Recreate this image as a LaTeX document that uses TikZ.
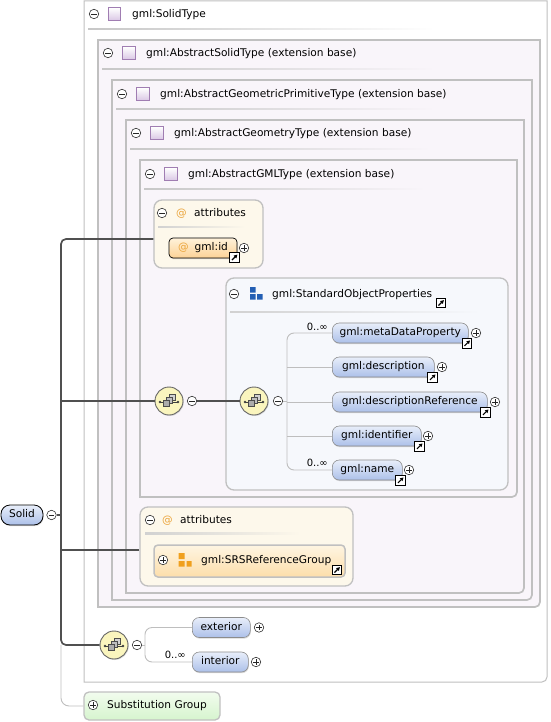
\documentclass[tikz,border=0pt]{standalone}
\usepackage{fontspec}
\setmainfont{DejaVu Sans}
\usetikzlibrary{shadows,arrows.meta}
\definecolor{boxgray}{RGB}{192,192,192}
\definecolor{lav}{RGB}{249,245,250}
\definecolor{attrfill}{RGB}{253,248,235}
\definecolor{sopfill}{RGB}{246,248,252}
\definecolor{elemtop}{RGB}{232,238,250}
\definecolor{elembot}{RGB}{172,192,233}
\definecolor{idtop}{RGB}{255,242,218}
\definecolor{idbot}{RGB}{252,210,150}
\definecolor{srstop}{RGB}{254,245,226}
\definecolor{srsbot}{RGB}{253,222,170}
\definecolor{seqfill}{RGB}{250,245,190}
\definecolor{subtop}{RGB}{242,252,238}
\definecolor{subbot}{RGB}{214,244,206}
\definecolor{trunkc}{RGB}{80,80,80}
\definecolor{branchc}{RGB}{190,190,190}
\definecolor{atcol}{RGB}{235,165,60}
\definecolor{purp}{RGB}{160,125,178}
\definecolor{purpfill}{RGB}{218,200,230}
\definecolor{iconblue}{RGB}{35,95,180}
\definecolor{iconorange}{RGB}{240,160,30}
\tikzset{
 outerbox/.style={draw=boxgray, line width=1pt, fill=white},
 nestbox/.style={draw=boxgray, line width=1.7pt, fill=lav},
 lbl/.style={anchor=base west, inner sep=0pt},
 minusc/.style={circle, draw=black!80, fill=white, line width=0.6pt, minimum size=9.5pt, inner sep=0pt,
   path picture={\draw[black!85, line width=0.8pt] ([xshift=-2.6pt]path picture bounding box.center) -- ([xshift=2.6pt]path picture bounding box.center);}},
 plusc/.style={circle, draw=black!80, fill=white, line width=0.6pt, minimum size=9.5pt, inner sep=0pt,
   path picture={\draw[black!85, line width=0.8pt] ([xshift=-2.6pt]path picture bounding box.center) -- ([xshift=2.6pt]path picture bounding box.center);
   \draw[black!85, line width=0.8pt] ([yshift=-2.6pt]path picture bounding box.center) -- ([yshift=2.6pt]path picture bounding box.center);}},
 purpsq/.style={draw=purp, line width=0.7pt, top color=white, bottom color=purpfill, minimum size=12.5pt, inner sep=0pt},
 elem/.style={draw=black!45, line width=0.6pt, top color=elemtop, bottom color=elembot, rounded corners=7pt,
   minimum height=20pt, inner sep=0pt, anchor=west, text height=7.6pt, text depth=2.3pt,
   drop shadow={shadow xshift=0.6pt, shadow yshift=-1.2pt, opacity=0.3}},
 idbox/.style={draw=black, line width=0.7pt, top color=idtop, bottom color=idbot, rounded corners=4pt,
   minimum width=68pt, minimum height=20pt, inner sep=0pt, text height=7.6pt, text depth=2.3pt,
   drop shadow={shadow xshift=0.6pt, shadow yshift=-1.2pt, opacity=0.3}},
 linkic/.style={draw=black, line width=1pt, fill=white, minimum size=9.5pt, inner sep=0pt,
   path picture={\draw[black, line width=1.1pt, -{Triangle[length=3.4pt,width=3.6pt]}] ([shift={(-2.6pt,-2.6pt)}]path picture bounding box.center) -- ([shift={(2.9pt,2.9pt)}]path picture bounding box.center);}},
 seqic/.style={circle, draw=black!60, line width=0.9pt, fill=seqfill, minimum size=28pt, inner sep=0pt,
   drop shadow={shadow xshift=0.8pt, shadow yshift=-1pt, opacity=0.25},
   path picture={\begin{scope}[shift={(path picture bounding box.center)}]
     \draw[black!75, line width=0.7pt] (-9,1) -- (9,1);
     \fill[black!75] (-9,1) circle (1.3pt) (9,1) circle (1.3pt);
     \draw[black!70, fill=gray!35, line width=0.5pt] (0,-7) rectangle (6,-1);
     \draw[black!70, fill=gray!50, line width=0.5pt] (-3,-4) rectangle (3,2);
     \draw[black!70, fill=gray!65, line width=0.5pt] (-6,-1) rectangle (0,5);
   \end{scope}}},
 attrbox/.style={draw=boxgray, line width=1.3pt, fill=attrfill, rounded corners=8pt, inner sep=0pt},
 trunkline/.style={draw=trunkc, line width=1.7pt},
 lightline/.style={draw=branchc, line width=0.9pt},
 zinf/.style={font=\fontsize{10}{11}\selectfont, anchor=base east, inner sep=0pt},
}
\begin{document}
\begin{tikzpicture}[x=1pt,y=-1pt,font=\fontsize{10.6}{12.5}\selectfont]
\useasboundingbox (0,0) rectangle (550,722);
% nested type boxes
\draw[outerbox] (84,1) -- (547,1) -- (547,677) arc[start angle=0,end angle=-90,radius=5pt] -- (84,682) -- cycle;
\draw[nestbox] (98,40) -- (540,40) -- (540,602) arc[start angle=0,end angle=-90,radius=5pt] -- (98,607) -- cycle;
\draw[nestbox] (112,80) -- (532,80) -- (532,595) arc[start angle=0,end angle=-90,radius=5pt] -- (112,600) -- cycle;
\draw[nestbox] (126,120) -- (524,120) -- (524,588) arc[start angle=0,end angle=-90,radius=5pt] -- (126,593) -- cycle;
\draw[nestbox] (140,160) -- (517,160) -- (517,492) arc[start angle=0,end angle=-90,radius=5pt] -- (140,497) -- cycle;
% headers
\shade[left color=black!22, right color=white] (88,28.3) rectangle (435,29.8);
\node[minusc] (hAm) at (94,14) {};
\node[purpsq] (hAs) at (114.5,14) {};
\node[lbl] (hAt) at (132,17.8) {gml:SolidType};
\shade[left color=black!22, right color=lav] (102,68.3) rectangle (435,69.8);
\node[minusc] (hBm) at (108,53) {};
\node[purpsq] (hBs) at (129,53) {};
\node[lbl] (hBt) at (146,56.8) {gml:AbstractSolidType (extension base)};
\shade[left color=black!22, right color=lav] (116,108.3) rectangle (435,109.8);
\node[minusc] (hCm) at (122,94) {};
\node[purpsq] (hCs) at (143,94) {};
\node[lbl] (hCt) at (160,97.8) {gml:AbstractGeometricPrimitiveType (extension base)};
\shade[left color=black!22, right color=lav] (130,148.3) rectangle (430,149.8);
\node[minusc] (hDm) at (136,133) {};
\node[purpsq] (hDs) at (157,133) {};
\node[lbl] (hDt) at (174,136.8) {gml:AbstractGeometryType (extension base)};
\shade[left color=black!22, right color=lav] (144,188.3) rectangle (425,189.8);
\node[minusc] (hEm) at (150,174) {};
\node[purpsq] (hEs) at (171,174) {};
\node[lbl] (hEt) at (188,177.8) {gml:AbstractGMLType (extension base)};
% attributes (gml:id)
\node[attrbox, minimum width=109pt, minimum height=68pt] (attrs1) at (208.5,234) {};
\shade[left color=black!18, right color=attrfill] (158,226) rectangle (245,227.5);
\node[minusc] (a1m) at (162,213) {};
\node[lbl, text=atcol] (a1at) at (176,216.8) {@};
\node[lbl] (a1t) at (194,216.8) {attributes};
\node[idbox] (gid) at (203,248) {\textcolor{atcol}{@}\hspace{6pt}gml:id};
\node[plusc] (gidp) at (244,248) {};
\node[linkic] (gidl) at (234.5,257.5) {};
% StandardObjectProperties group
\draw[draw=boxgray, line width=1.3pt, fill=sopfill, rounded corners=8pt] (226,278) rectangle (508,490);
\shade[left color=black!18, right color=sopfill] (230,311.3) rectangle (480,312.8);
\node[minusc] (sopm) at (234,294) {};
\fill[iconblue] (250,287) rectangle (255.5,292.5) (250,294) rectangle (255.5,299.5) (257,294) rectangle (262.5,299.5);
\node[lbl] (sopt) at (272,297.8) {gml:StandardObjectProperties};
\node[linkic] (sopl) at (441,303) {};
\node[elem, minimum width=136pt] (md) at (332,333) {gml:metaDataProperty};
\node[elem, minimum width=102pt] (desc) at (332,367) {gml:description};
\node[elem, minimum width=155pt] (dref) at (332,402) {gml:descriptionReference};
\node[elem, minimum width=89pt] (ident) at (332,436) {gml:identifier};
\node[elem, minimum width=70pt] (nm) at (332,470) {gml:name};
\node[plusc] (mdp) at (476,333) {};
\node[plusc] (descp) at (442,367) {};
\node[plusc] (drefp) at (495,402) {};
\node[plusc] (identp) at (428,436) {};
\node[plusc] (nmp) at (409,470) {};
\node[linkic] (mdl) at ([xshift=-1.5pt]md.south east) {};
\node[linkic] (descl) at ([xshift=-2pt]desc.south east) {};
\node[linkic] (drefl) at ([xshift=-2pt]dref.south east) {};
\node[linkic] (identl) at ([xshift=-2pt]ident.south east) {};
\node[linkic] (nml) at ([xshift=-2pt]nm.south east) {};
\node[zinf] (mdz) at (328,330.5) {0..∞};
\node[zinf] (nmz) at (328,466.5) {0..∞};
% sequences
\node[seqic] (seq1) at (169,401) {};
\node[minusc] (seq1m) at (192,401) {};
\node[seqic] (seq2) at (254,401) {};
\node[minusc] (seq2m) at (278,401) {};
\coordinate (b1) at (287,401);
\draw[trunkline] (seq1m.east) -- (seq2.west);
\draw[lightline] (seq2m.east) -- (b1);
\draw[lightline, rounded corners=7pt] (md.west) -| (b1) |- (nm.west);
\draw[lightline] (desc.west) -- (desc.west -| b1);
\draw[lightline] (dref.west) -- (dref.west -| b1);
\draw[lightline] (ident.west) -- (ident.west -| b1);
% attributes (SRSReferenceGroup)
\node[attrbox, minimum width=213pt, minimum height=79pt] (attrs2) at (246.5,546.5) {};
\shade[left color=black!18, right color=attrfill] (145,532.5) rectangle (300,534);
\node[minusc] (a2m) at (150,520) {};
\node[lbl, text=atcol] (a2at) at (162,523.8) {@};
\node[lbl] (a2t) at (180,523.8) {attributes};
\node[draw=boxgray, line width=1.5pt, top color=srstop, bottom color=srsbot, rounded corners=4pt, minimum width=191pt, minimum height=32pt, inner sep=0pt] (srs) at (249.5,561) {};
\node[plusc] (srsp) at (163,560) {};
\fill[iconorange] (178.5,553) rectangle (184.5,559) (178.5,561) rectangle (184.5,566.5) (186.5,561) rectangle (191.5,566.5);
\node[lbl] (srst) at (201,563.8) {gml:SRSReferenceGroup};
\node[linkic] (srsl) at (337,570) {};
% exterior / interior
\node[seqic] (seq3) at (114,645) {};
\node[minusc] (seq3m) at (137,645) {};
\coordinate (b2) at (145,645);
\node[elem, minimum width=58pt] (ext) at (192,627.5) {exterior};
\node[elem, minimum width=56pt] (int) at (192,662) {interior};
\node[plusc] (extp) at (259,627.5) {};
\node[plusc] (intp) at (256,662) {};
\node[zinf] (intz) at (186,658.5) {0..∞};
\draw[lightline] (seq3m.east) -- (b2);
\draw[lightline, rounded corners=7pt] (ext.west) -| (b2) |- (int.west);
% Solid element and substitution group
\node[draw=black, line width=0.8pt, top color=elemtop, bottom color=elembot, rounded corners=9pt, minimum width=42pt, minimum height=20pt, inner sep=0pt, text height=7.6pt, text depth=2.3pt, drop shadow={shadow xshift=0.6pt, shadow yshift=-1.2pt, opacity=0.3}] (solid) at (22,515) {Solid};
\node[minusc] (solidm) at (51.5,515) {};
\node[draw=boxgray, line width=1.3pt, top color=subtop, bottom color=subbot, rounded corners=5pt, minimum width=136pt, minimum height=28pt, inner sep=0pt] (subst) at (152,706) {};
\node[plusc] (substp) at (93,705) {};
\node[lbl] (substt) at (107,708.8) {Substitution Group};
% trunk
\coordinate (tj) at (61,515);
\draw[lightline, rounded corners=8pt] (tj |- seq3.west) -- (tj |- subst.west) -- (subst.west);
\draw[trunkline] (solidm.east) -- (tj);
\draw[trunkline, rounded corners=5pt] ([yshift=-5pt]attrs1.west) -| (tj);
\draw[trunkline] (seq1.west) -- (seq1.west -| tj);
\draw[trunkline] ([yshift=-3.5pt]attrs2.west) -- ([yshift=-3.5pt]attrs2.west -| tj);
\draw[trunkline, rounded corners=5pt] (seq3.west) -| (tj);
\end{tikzpicture}
\end{document}
